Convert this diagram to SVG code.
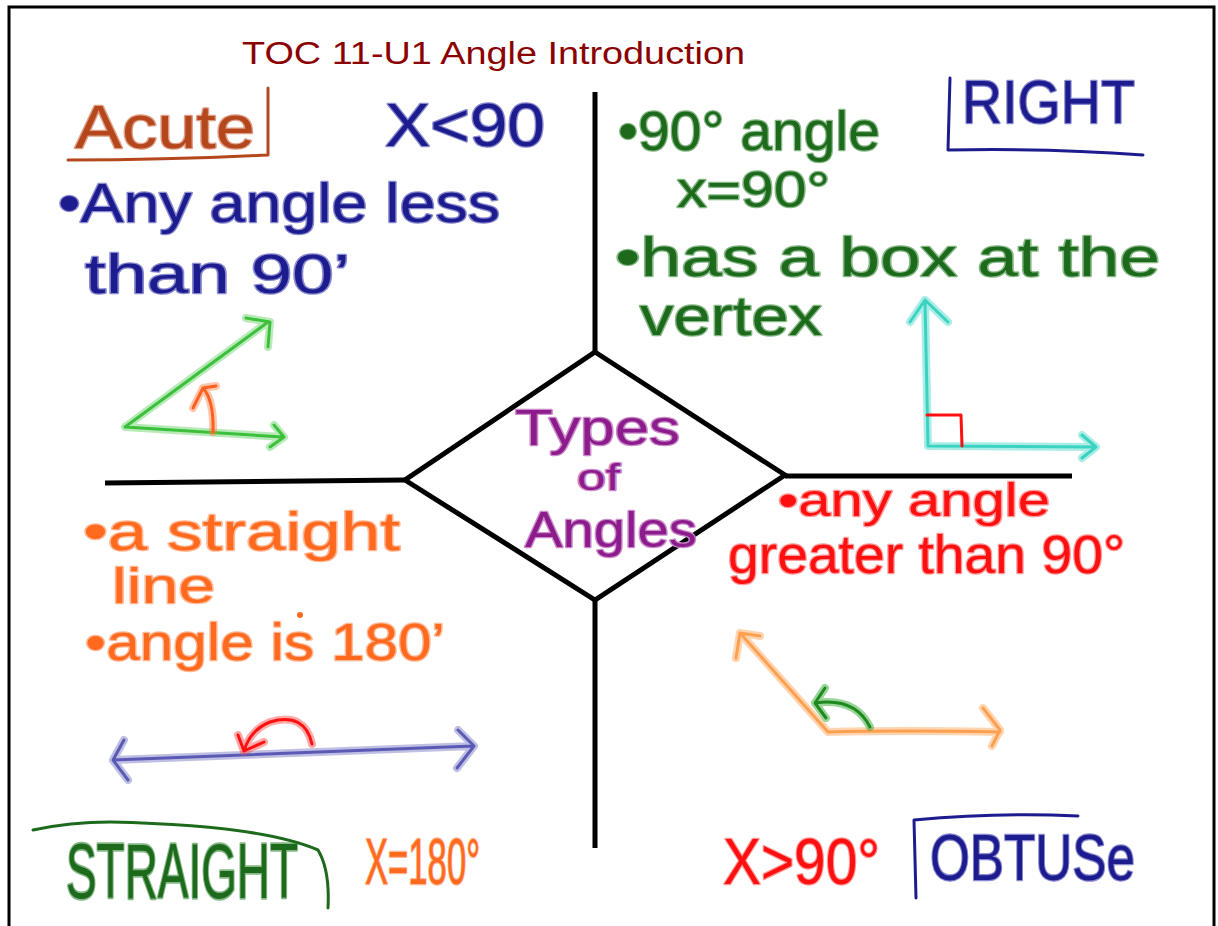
<svg xmlns="http://www.w3.org/2000/svg" width="1218" height="926" viewBox="0 0 1218 926">
<style>
  .hw { font-family: "Liberation Sans", "DejaVu Sans", sans-serif; paint-order: stroke; stroke-linejoin: round; stroke-width: 2.5; }
  .navy { fill: #1c1c8e; stroke: #8a8ad0; }
  .green { fill: #1d6a1d; stroke: #86b886; }
  .brown { fill: #b4481c; stroke: #e0a088; }
  .orange { fill: #ff6a1e; stroke: #ffb896; }
  .red { fill: #ff1010; stroke: #ff9a9a; }
  .purple { fill: #8c1c8c; stroke: #cc8ccc; }
  .halo { fill: none; stroke-linecap: round; stroke-linejoin: round; stroke-width: 8; opacity: 0.45; }
  .core { fill: none; stroke-linecap: round; stroke-linejoin: round; stroke-width: 3; }
  .blk { fill: none; stroke: #000; stroke-width: 5; stroke-linejoin: miter; }
</style>
<rect width="1218" height="926" fill="#fff"/>
<rect x="9" y="7" width="1205" height="940" fill="none" stroke="#000" stroke-width="3"/>

<g id="title">
  <text x="242" y="64" font-family="Liberation Sans, sans-serif" font-size="31" fill="#8b0000" textLength="503" lengthAdjust="spacingAndGlyphs">TOC 11-U1 Angle Introduction</text>
</g>

<g id="connectors">
  <line class="blk" x1="595" y1="92" x2="595" y2="352"/>
  <line class="blk" x1="595" y1="600" x2="595" y2="848"/>
  <line class="blk" x1="105" y1="483" x2="405" y2="480"/>
  <line class="blk" x1="785" y1="476" x2="1072" y2="476"/>
</g>

<g id="center">
  <polygon class="blk" points="595,352 785,475 595,600 405,480"/>
  <text class="hw purple" x="515" y="445" font-size="50" textLength="165" lengthAdjust="spacingAndGlyphs">Types</text>
  <text class="hw purple" x="577" y="490" font-size="36" textLength="43" lengthAdjust="spacingAndGlyphs">of</text>
  <text class="hw purple" x="525" y="547" font-size="50" textLength="172" lengthAdjust="spacingAndGlyphs">Angles</text>
</g>

<g id="acute">
  <text class="hw brown" x="75" y="148" font-size="62" textLength="180" lengthAdjust="spacingAndGlyphs">Acute</text>
  <path class="core" stroke="#b4481c" d="M268,88 L268,155 Q170,160 68,160"/>
  <text class="hw navy" x="385" y="146" font-size="62" textLength="160" lengthAdjust="spacingAndGlyphs">X&lt;90</text>
  <text class="hw navy" x="58" y="222" font-size="56" textLength="442" lengthAdjust="spacingAndGlyphs">•Any angle less</text>
  <text class="hw navy" x="85" y="293" font-size="56" textLength="265" lengthAdjust="spacingAndGlyphs">than 90’</text>
  <g>
    <path class="halo" stroke="#60d060" d="M268,322 L125,427 L282,437 M246,318 L270,322 L268,347 M274,425 L284,437 L270,447"/>
    <path class="core" stroke="#3cc03c" d="M268,322 L125,427 L282,437 M246,318 L270,322 L268,347 M274,425 L284,437 L270,447"/>
    <path class="halo" stroke="#ff8040" d="M213,432 Q214,400 203,388 M193,408 L203,388 L216,386"/>
    <path class="core" stroke="#ff6020" d="M213,432 Q214,400 203,388 M193,408 L203,388 L216,386"/>
  </g>
</g>

<g id="right">
  <text class="hw green" x="618" y="150" font-size="56" textLength="262" lengthAdjust="spacingAndGlyphs">•90° angle</text>
  <text class="hw green" x="677" y="207" font-size="50" textLength="153" lengthAdjust="spacingAndGlyphs">x=90°</text>
  <text class="hw green" x="615" y="276" font-size="56" textLength="545" lengthAdjust="spacingAndGlyphs">•has a box at the</text>
  <text class="hw green" x="640" y="335" font-size="56" textLength="182" lengthAdjust="spacingAndGlyphs">vertex</text>
  <text class="hw navy" x="962" y="123" font-size="62" textLength="173" lengthAdjust="spacingAndGlyphs">RIGHT</text>
  <path class="core" stroke="#1c1c8e" d="M950,78 L948,150 Q1050,148 1143,155"/>
  <path class="halo" stroke="#40d8c8" d="M925,300 L928,446 L1095,447 M910,322 L925,300 L948,322 M1082,435 L1096,447 L1082,458"/>
  <path class="core" stroke="#3cd2c2" d="M925,300 L928,446 L1095,447 M910,322 L925,300 L948,322 M1082,435 L1096,447 L1082,458"/>
  <path class="core" stroke="#ff1010" stroke-width="4" d="M927,415 L961,415 L962,446"/>
</g>

<g id="straight">
  <text class="hw orange" x="83" y="550" font-size="54" textLength="317" lengthAdjust="spacingAndGlyphs">•a straight</text>
  <text class="hw orange" x="112" y="603" font-size="50" textLength="103" lengthAdjust="spacingAndGlyphs">line</text>
  <circle cx="300" cy="615" r="3" fill="#ff6a1e"/>
  <text class="hw orange" x="85" y="660" font-size="52" textLength="360" lengthAdjust="spacingAndGlyphs">•angle is 180’</text>
  <path class="halo" stroke="#7070c0" d="M113,760 Q300,752 473,746 M124,740 L113,760 L128,780 M458,730 L474,746 L457,768"/>
  <path class="core" stroke="#5a5ab4" d="M113,760 Q300,752 473,746 M124,740 L113,760 L128,780 M458,730 L474,746 L457,768"/>
  <path class="halo" stroke="#ff4040" d="M312,744 Q305,712 270,722 Q250,730 244,751 M238,735 L244,751 L264,742"/>
  <path class="core" stroke="#ff1010" d="M312,744 Q305,712 270,722 Q250,730 244,751 M238,735 L244,751 L264,742"/>
  <text class="hw green" transform="translate(66,898) scale(1,1.35)" x="0" y="0" font-size="58" textLength="232" lengthAdjust="spacingAndGlyphs">STRAIGHT</text>
  <path class="core" stroke="#1d6a1d" d="M33,830 Q70,822 110,822 Q260,825 318,850 Q330,870 328,908"/>
  <text class="hw orange" x="365" y="884" font-size="64" textLength="115" lengthAdjust="spacingAndGlyphs">X=180°</text>
</g>

<g id="obtuse">
  <text class="hw red" x="778" y="516" font-size="46" textLength="272" lengthAdjust="spacingAndGlyphs">•any angle</text>
  <text class="hw red" x="728" y="573" font-size="54" textLength="397" lengthAdjust="spacingAndGlyphs">greater than 90°</text>
  <path class="halo" stroke="#ffa050" d="M740,633 L828,732 Q900,730 1000,732 M736,658 L740,633 L760,636 M983,708 L1000,730 L992,746"/>
  <path class="core" stroke="#ffa050" d="M740,633 L828,732 Q900,730 1000,732 M736,658 L740,633 L760,636 M983,708 L1000,730 L992,746"/>
  <path class="halo" stroke="#20a020" d="M870,727 Q855,697 815,703 M825,688 L815,703 L826,718"/>
  <path class="core" stroke="#1d8a1d" d="M870,727 Q855,697 815,703 M825,688 L815,703 L826,718"/>
  <text class="hw red" x="723" y="884" font-size="64" textLength="157" lengthAdjust="spacingAndGlyphs">X&gt;90°</text>
  <text class="hw navy" x="930" y="880" font-size="64" textLength="205" lengthAdjust="spacingAndGlyphs">OBTUSe</text>
  <path class="core" stroke="#1c1c8e" d="M916,898 L914,820 Q1000,812 1078,816"/>
</g>
</svg>
